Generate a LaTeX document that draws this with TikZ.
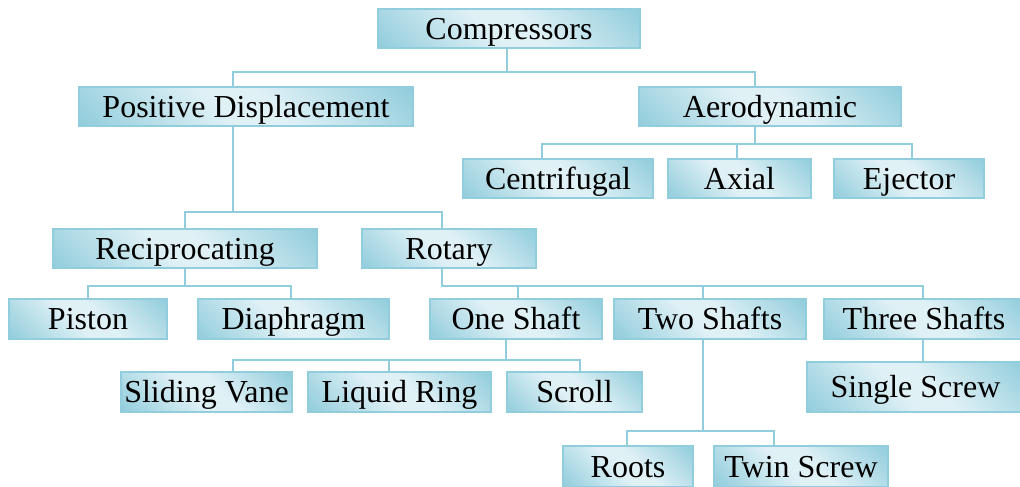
\documentclass[tikz,border=0pt]{standalone}
\usepackage{fontspec}
\setmainfont{Liberation Serif}
\definecolor{boxdark}{RGB}{146,205,220}
\definecolor{boxlight}{RGB}{224,241,246}
\definecolor{edge}{RGB}{146,205,221}
% diagonal fill: darker at the lower-left and upper-right corners, light band between them
\pgfdeclareverticalshading{boxshade}{100bp}{color(0bp)=(boxdark); color(15bp)=(boxdark);
  color(45bp)=(boxlight); color(55bp)=(boxlight); color(85bp)=(boxdark); color(100bp)=(boxdark)}
% box given by its pixel corners: name, x1, y1, x2, y2, label
\newcommand\cbx[6]{\node[cbox, minimum width={(#4-#2)*0.75pt}, minimum height={(#5-#3)*0.75pt}] (#1) at ({(#2+#4)/2},{(#3+#5)/2}) {#6};}
\begin{document}
\begin{tikzpicture}[x=0.75pt,y=-0.75pt,
  cbox/.style={draw=edge, line width=1.1pt, shading=boxshade, shading angle=-45, inner sep=0pt,
    text height=15.8pt, text depth=0pt, text=black, font=\fontsize{24}{28}\selectfont},
  conn/.style={draw=edge, line width=1.4pt}]
\useasboundingbox (0,0) rectangle (1020,486);

% level 1 and 2
\cbx{comp}{378}{9}{640}{48}{Compressors}
\cbx{pd}{79}{87}{413}{126}{Positive Displacement}
\cbx{aero}{639}{87}{901}{126}{Aerodynamic}
% aerodynamic family
\cbx{centri}{463}{159}{653}{198}{Centrifugal}
\cbx{axial}{668}{159}{811}{198}{Axial}
\cbx{ejector}{834}{159}{984}{198}{Ejector}
% positive displacement family
\cbx{recip}{53}{229}{317}{268}{Reciprocating}
\cbx{rotary}{362}{229}{536}{268}{Rotary}
\cbx{piston}{9}{299}{167}{339}{Piston}
\cbx{diaph}{198}{299}{389}{339}{Diaphragm}
\cbx{one}{430}{299}{602}{339}{One Shaft}
\cbx{two}{614}{299}{806}{339}{Two Shafts}
\cbx{three}{824}{299}{1024}{339}{Three Shafts}
\cbx{vane}{121}{372}{292}{412}{Sliding Vane}
\cbx{liquid}{308}{372}{491}{412}{Liquid Ring}
\cbx{scroll}{507}{372}{642}{412}{Scroll}
\cbx{single}{807}{362}{1024}{412}{Single Screw}
\cbx{roots}{563}{446}{693}{487}{Roots}
\cbx{twin}{714}{446}{888}{487}{Twin Screw}

% connectors: stem down to a bus, across, then down to each child
\draw[conn] ([xshift=-1.5pt]comp.south) -- ++(0,23) -| ([xshift=-9.75pt]pd.north);
\draw[conn] ([xshift=-1.5pt]comp.south) -- ++(0,23) -| ([xshift=-11.25pt]aero.north);

\draw[conn] ([xshift=-11.25pt]aero.south) -- ++(0,17) -| ([xshift=-12pt]centri.north);
\draw[conn] ([xshift=-11.25pt]aero.south) -- ++(0,17) -| ([xshift=-1.9pt]axial.north);
\draw[conn] ([xshift=-11.25pt]aero.south) -- ++(0,17) -| ([xshift=2.25pt]ejector.north);

\draw[conn] ([xshift=-9.75pt]pd.south) -- ++(0,85) -| (recip.north);
\draw[conn] ([xshift=-9.75pt]pd.south) -- ++(0,85) -| ([xshift=-5.25pt]rotary.north);

\draw[conn] (recip.south) -- ++(0,17) -| (piston.north);
\draw[conn] (recip.south) -- ++(0,17) -| ([xshift=-1.9pt]diaph.north);

\draw[conn] ([xshift=-5.25pt]rotary.south) -- ++(0,17) -| ([xshift=1.5pt]one.north);
\draw[conn] ([xshift=-5.25pt]rotary.south) -- ++(0,17) -| ([xshift=-5.25pt]two.north);
\draw[conn] ([xshift=-5.25pt]rotary.south) -- ++(0,17) -| ([xshift=-0.75pt]three.north);

\draw[conn] ([xshift=-7.5pt]one.south) -- ++(0,20) -| ([xshift=19.9pt]vane.north);
\draw[conn] ([xshift=-7.5pt]one.south) -- ++(0,20) -| ([xshift=-7.9pt]liquid.north);
\draw[conn] ([xshift=-7.5pt]one.south) -- ++(0,20) -| ([xshift=4.1pt]scroll.north);

\draw[conn] ([xshift=-5.25pt]two.south) -- ++(0,91) -| ([xshift=-0.75pt]roots.north);
\draw[conn] ([xshift=-5.25pt]two.south) -- ++(0,91) -| ([xshift=-20.25pt]twin.north);

\draw[conn] ([xshift=-0.75pt]three.south) -- ([xshift=-0.75pt]three.south |- single.north);
\end{tikzpicture}
\end{document}
